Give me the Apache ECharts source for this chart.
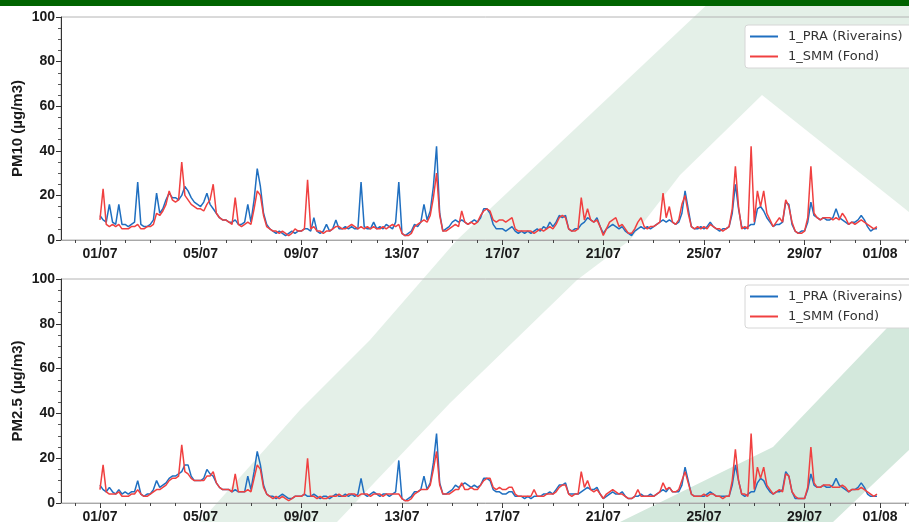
<!DOCTYPE html>
<html>
<head>
<meta charset="utf-8">
<script src="https://cdn.jsdelivr.net/npm/echarts@6/dist/echarts.min.js"></script>
<style>html,body{margin:0;padding:0;background:#fff}#c{width:909px;height:522px}</style>
</head>
<body>
<div id="c"></div>
<script>
// ---- data (3-hourly samples from 01/07 00:00) ----
const startUTC = Date.UTC(2023, 6, 1);
const stepHours = 3;
const seriesNames = ['1_PRA (Riverains)', '1_SMM (Fond)'];
const tickDays = [0, 4, 8, 12, 16, 20, 24, 28, 31];
const pm10Pra = [
 11,9,8,16,8,7,16,7, 7,6,7,8,26,7,6,6, 7,9,21,12,14,18,21,19, 19,18,20,24,22,19,17,16,
 15,17,21,16,14,12,10,9, 9,8,8,9,7,7,8,16, 8,18,32,24,12,7,5,4, 3,4,3,2,3,4,3,4,
 4,5,5,4,10,4,3,4, 7,4,5,9,5,5,6,5, 6,5,5,26,6,5,5,8, 5,6,5,7,6,5,8,26,
 3,2,3,4,7,6,8,16, 9,13,24,42,12,4,5,6, 8,9,8,9,8,7,8,9, 8,10,14,14,12,7,5,5,
 5,4,5,6,4,3,4,3, 4,3,4,5,4,6,5,8, 6,8,11,10,11,5,4,5, 5,7,8,10,9,8,10,6,
 3,5,6,7,6,5,6,4, 3,2,4,5,6,5,6,5, 6,7,8,9,8,9,8,7, 8,12,22,14,6,5,5,6,
 5,6,8,6,5,4,5,5, 6,12,25,14,6,5,6,7, 7,14,15,13,10,8,6,7, 7,8,17,16,7,4,3,4,
 4,8,17,11,10,9,10,9, 9,10,14,10,9,8,7,8, 8,9,11,9,6,4,5,5
];
const pm10Smm = [
 9,23,7,6,7,6,7,5, 5,5,6,6,7,5,5,6, 6,7,12,11,13,16,22,18, 17,18,35,20,18,16,15,14,
 14,13,16,18,25,12,10,9, 9,8,7,19,7,6,7,8, 7,14,22,20,11,6,5,4, 4,3,4,3,2,3,5,4,
 4,5,27,5,6,4,4,3, 4,4,5,6,6,5,5,6, 7,6,5,6,5,6,5,6, 5,5,6,5,6,7,6,7,
 3,2,2,3,6,7,8,9, 8,11,19,30,11,4,4,5, 6,7,6,13,8,7,8,7, 8,11,13,14,13,9,8,9,
 9,8,9,10,5,4,4,4, 4,4,3,4,5,4,5,6, 5,7,10,11,10,5,4,4, 5,19,9,14,9,8,9,6,
 2,5,8,9,10,6,7,5, 3,3,5,8,10,6,5,6, 6,7,8,21,10,15,8,7, 9,16,20,12,6,5,6,5,
 6,5,7,6,5,5,4,5, 6,14,33,15,5,6,5,42, 8,22,15,22,12,9,6,8, 10,8,18,15,8,4,3,3,
 4,10,33,12,10,9,10,10, 10,9,10,9,12,10,7,8, 7,8,9,8,7,6,5,6
];
const pm25Pra = [
 8,6,5,7,5,4,6,4, 5,4,5,5,10,4,3,4, 4,6,10,7,8,9,11,12, 12,13,14,17,17,12,10,10,
 10,11,15,13,12,9,7,6, 6,6,5,6,5,5,5,12, 6,14,23,17,8,4,3,3, 2,3,4,3,2,2,3,3,
 3,4,3,3,4,3,2,3, 3,2,3,4,3,3,4,3, 4,3,4,11,4,3,4,5, 4,3,4,4,3,4,5,19,
 2,1,2,3,5,5,6,12, 6,9,18,31,9,4,4,5, 6,8,7,8,9,8,7,8, 7,8,11,11,10,6,5,5,
 4,4,5,5,3,3,3,2, 3,2,3,3,3,4,4,5, 4,6,8,8,9,4,4,4, 4,5,6,7,6,6,7,4,
 2,3,4,5,4,4,5,3, 2,2,3,3,4,3,3,4, 3,4,5,6,5,7,5,5, 5,8,16,10,4,3,3,3,
 3,4,5,4,3,3,3,3, 3,8,17,10,4,3,4,5, 5,9,11,10,7,5,4,5, 5,6,14,12,5,2,2,2,
 2,6,13,8,7,7,8,7, 7,8,11,8,7,6,5,6, 6,7,9,7,4,3,3,3
];
const pm25Smm = [
 6,17,5,4,4,4,5,3, 3,3,4,4,6,4,3,3, 4,5,6,6,7,8,10,11, 11,12,26,14,13,11,10,10,
 10,10,12,12,14,9,7,6, 6,6,5,13,5,5,5,6, 5,11,17,15,7,4,3,2, 3,2,3,2,1,2,3,3,
 3,4,20,3,3,2,3,2, 2,3,3,3,4,3,3,4, 4,4,3,4,4,4,3,4, 4,4,3,4,4,4,4,4,
 2,1,1,2,4,5,6,6, 6,8,15,23,8,4,4,4, 5,6,6,9,6,6,7,6, 6,8,10,11,11,7,6,7,
 6,6,7,7,4,3,3,3, 3,3,6,3,3,3,4,4, 4,5,7,8,8,4,3,4, 4,14,7,10,6,5,6,4,
 2,4,5,6,5,4,4,3, 2,2,3,6,3,3,3,3, 3,4,5,9,6,7,5,5, 6,10,14,9,4,3,3,3,
 4,3,4,4,3,3,2,3, 3,10,24,10,4,4,3,31, 6,16,11,16,8,6,4,5, 6,5,13,12,5,3,2,2,
 2,7,25,9,7,7,8,8, 8,7,7,7,8,7,5,6, 6,6,7,6,5,4,3,4
];

// ---- chart ----
// x axis in hours counted from 29/06 00:00 (so 0 lies outside the visible range)
const OFFSET_H = 48;
const BLUE = '#1f6fc0', RED = '#f04040';
const X_MIN = OFFSET_H - 37.15, X_MAX = OFFSET_H + 780.15;
const toPairs = arr => arr.map((v, i) => [OFFSET_H + i * stepHours, v]);
const pad = n => (n < 10 ? '0' : '') + n;
const fmtDate = h => { const d = new Date(startUTC + (h - OFFSET_H) * 3600000); return pad(d.getUTCDate()) + '/' + pad(d.getUTCMonth() + 1); };
const majorHours = tickDays.map(d => OFFSET_H + d * 24);
const minorHours = []; for (let d = -1; d <= 32; d++) minorHours.push(OFFSET_H + d * 24);

const labelFont = { fontFamily: 'Liberation Sans', fontWeight: 'bold', fontSize: 14, color: '#1a1a1a' };
const gridBase = { left: 61, width: 857, show: true, borderColor: '#b4b4b4', borderWidth: 1, backgroundColor: 'transparent', outerBoundsMode: 'none', containLabel: false };
const grids = [
  Object.assign({ top: 17, height: 223 }, gridBase),
  Object.assign({ top: 279, height: 224 }, gridBase)
];
const xAxes = [], yAxes = [];
['PM10 (µg/m3)', 'PM2.5 (µg/m3)'].forEach((nm, g) => {
  xAxes.push({
    type: 'value', gridIndex: g, min: X_MIN, max: X_MAX, position: 'bottom',
    axisLine: { show: true, onZero: false, lineStyle: { color: '#a8a8a8', width: 1 } },
    axisTick: { show: true, customValues: majorHours, length: 5, lineStyle: { color: '#333' } },
    axisLabel: Object.assign({ customValues: majorHours, formatter: fmtDate, margin: 7 }, labelFont),
    splitLine: { show: false }
  });
  xAxes.push({
    type: 'value', gridIndex: g, min: X_MIN, max: X_MAX, position: 'bottom',
    axisLine: { show: false, onZero: false },
    axisTick: { show: true, customValues: minorHours, length: 3, lineStyle: { color: '#444' } },
    axisLabel: { show: false }, splitLine: { show: false }
  });
  yAxes.push({
    type: 'value', gridIndex: g, min: 0, max: 100, interval: 20, position: 'left',
    axisLine: { show: true, onZero: false, lineStyle: { color: '#333', width: 1 } },
    axisTick: { show: true, length: 5, lineStyle: { color: '#333' } },
    minorTick: { show: true, splitNumber: 4, length: 3, lineStyle: { color: '#555' } },
    axisLabel: Object.assign({ margin: 6 }, labelFont),
    splitLine: { show: false },
    name: nm, nameLocation: 'middle', nameGap: 36, nameMoveOverlap: false,
    nameTextStyle: { fontFamily: 'Liberation Sans', fontWeight: 'bold', fontSize: 15, color: '#1a1a1a' }
  });
});
const mkSeries = (name, data, g, color) => ({
  type: 'line', name, data: toPairs(data), xAxisIndex: g * 2, yAxisIndex: g,
  showSymbol: false, symbol: 'none', lineStyle: { width: 1.5, color }, itemStyle: { color },
  emphasis: { disabled: true }
});
const legendBase = {
  orient: 'vertical', left: 745, icon: 'rect', itemWidth: 28, itemHeight: 2, itemGap: 5,
  padding: [4, 10, 4, 5], backgroundColor: '#ffffff', borderColor: '#d6d6d6', borderWidth: 1, borderRadius: 3,
  textStyle: { fontFamily: 'DejaVu Sans', fontSize: 13, color: '#333', lineHeight: 15, padding: [0, 0, 0, 5] },
  data: seriesNames, selectedMode: false
};
const chart = echarts.init(document.getElementById('c'), null, { renderer: 'canvas' });
chart.setOption({
  animation: false,
  backgroundColor: '#ffffff',
  graphic: [
    { type: 'polygon', z: -10, silent: true, shape: { points: [[712,0],[909,0],[909,212],[762,95],[680,175],[630,240],[577,280],[450,403],[337,522],[200,522],[300,410],[370,340],[457,240]] }, style: { fill: '#e4f0e8' } },
    { type: 'polygon', z: -10, silent: true, shape: { points: [[620,522],[773,447],[909,305],[909,450],[833,522]] }, style: { fill: '#d3e8dc' } },
    { type: 'rect', z: 10, silent: true, shape: { x: 0, y: 0, width: 909, height: 6 }, style: { fill: '#006400' } }
  ],
  grid: grids,
  xAxis: xAxes,
  yAxis: yAxes,
  legend: [Object.assign({ top: 25 }, legendBase), Object.assign({ top: 285 }, legendBase)],
  series: [
    mkSeries(seriesNames[0], pm10Pra, 0, BLUE),
    mkSeries(seriesNames[1], pm10Smm, 0, RED),
    mkSeries(seriesNames[0], pm25Pra, 1, BLUE),
    mkSeries(seriesNames[1], pm25Smm, 1, RED)
  ]
});
</script>
</body>
</html>
